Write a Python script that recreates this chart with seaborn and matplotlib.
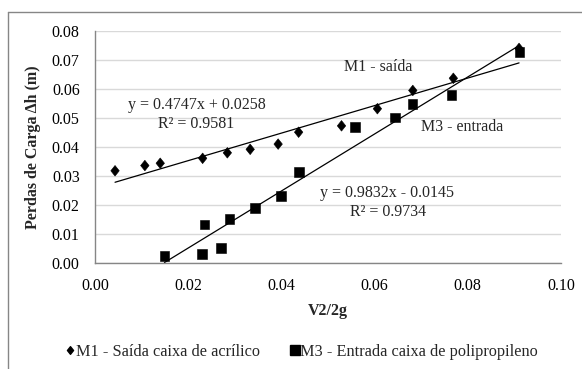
import matplotlib
matplotlib.use("Agg")
import matplotlib.pyplot as plt
from matplotlib.path import Path
from matplotlib.lines import Line2D
import numpy as np
import pandas as pd
import seaborn as sns

# Measured head loss against velocity head
m1_label = "M1 - Saída caixa de acrílico"
m3_label = "M3 - Entrada caixa de polipropileno"

m1_x = [0.0043, 0.0107, 0.0140, 0.0231, 0.0284, 0.0333, 0.0393,
        0.0437, 0.0529, 0.0606, 0.0682, 0.0769, 0.0910]
m1_y = [0.0318, 0.0336, 0.0344, 0.0361, 0.0380, 0.0392, 0.0410,
        0.0451, 0.0473, 0.0532, 0.0595, 0.0637, 0.0740]

m3_x = [0.0149, 0.0229, 0.0235, 0.0270, 0.0289, 0.0344, 0.0399,
        0.0438, 0.0558, 0.0644, 0.0681, 0.0765, 0.0911]
m3_y = [0.0025, 0.0031, 0.0133, 0.0051, 0.0151, 0.0189, 0.0231,
        0.0313, 0.0470, 0.0502, 0.0548, 0.0580, 0.0727]

# Linear trendlines (slope, intercept, R²)
m1_fit = [0.4747, 0.0258, 0.9581]
m3_fit = [0.9832, -0.0145, 0.9734]

x_ticks = [0.00, 0.02, 0.04, 0.06, 0.08, 0.10]
y_ticks = [0.00, 0.01, 0.02, 0.03, 0.04, 0.05, 0.06, 0.07, 0.08]

df = pd.DataFrame({
    "x": m1_x + m3_x,
    "y": m1_y + m3_y,
    "serie": [m1_label] * len(m1_x) + [m3_label] * len(m3_x),
})

sns.set_style("white")
plt.rcParams["font.family"] = ["Liberation Serif", "DejaVu Serif"]

diamond = Path([(0, 1), (0.8, 0), (0, -1), (-0.8, 0), (0, 1)],
               [Path.MOVETO, Path.LINETO, Path.LINETO, Path.LINETO, Path.CLOSEPOLY])

fig = plt.figure(figsize=(5.82, 3.69), dpi=100)
ax = fig.add_axes([95 / 582, 1 - 263 / 369, (561 - 95) / 582, (263 - 31) / 369])

grid_c = "#d9d9d9"
axis_c = "#868686"

sns.scatterplot(data=df, x="x", y="y", hue="serie", style="serie",
                palette={m1_label: "black", m3_label: "black"},
                markers={m1_label: diamond, m3_label: "s"},
                size="serie", sizes={m1_label: 58, m3_label: 48},
                linewidth=0.4, edgecolor="black", ax=ax, legend=False, zorder=3)

for xs, fit in ((m1_x, m1_fit), (m3_x, m3_fit)):
    xx = np.array([min(xs), max(xs)])
    ax.plot(xx, fit[0] * xx + fit[1], color="black", lw=0.9, zorder=2)

ax.set_xlim(0, 0.10)
ax.set_ylim(0, 0.08)
ax.set_xticks(x_ticks)
ax.set_yticks(y_ticks)
ax.set_xticklabels([f"{v:.2f}" for v in x_ticks])
ax.set_yticklabels([f"{v:.2f}" for v in y_ticks])
ax.yaxis.grid(True, color=grid_c, lw=1)
ax.xaxis.grid(False)
ax.set_axisbelow(True)
for side in ("top", "right"):
    ax.spines[side].set_visible(False)
for side in ("left", "bottom"):
    ax.spines[side].set_color(axis_c)
    ax.spines[side].set_linewidth(1)
ax.tick_params(axis="both", which="major", direction="out", length=5,
               width=1, color=axis_c, labelsize=11.5, labelcolor="black", pad=6)

ax.set_xlabel("V2/2g", fontsize=11.5, fontweight="bold", labelpad=6)
ax.set_ylabel("Perdas de Carga Δh (m)", fontsize=11.5, fontweight="bold", labelpad=8)

def fit_text(fit, sign):
    b = abs(fit[1])
    return f"y = {fit[0]:.4f}x {sign} {b:.4f}"

fs = 11.5
ax.text(0.0218, 0.0545, fit_text(m1_fit, "+"), ha="center", va="center", fontsize=fs)
ax.text(0.0217, 0.0479, f"R² = {m1_fit[2]:.4f}", ha="center", va="center", fontsize=fs)
ax.text(0.0627, 0.0240, fit_text(m3_fit, "-"), ha="center", va="center", fontsize=fs)
ax.text(0.0629, 0.0175, f"R² = {m3_fit[2]:.4f}", ha="center", va="center", fontsize=fs)
ax.text(0.0607, 0.0677, "M1 - saída", ha="center", va="center", fontsize=fs)
ax.text(0.0787, 0.0470, "M3 - entrada", ha="center", va="center", fontsize=fs)

handles = [
    Line2D([], [], ls="none", marker=diamond, color="black", markersize=5.5),
    Line2D([], [], ls="none", marker="s", color="black", markersize=6.5),
]
fig.legend(handles, [m1_label, m3_label], loc="center",
           bbox_to_anchor=(302 / 582, 1 - 352 / 369), ncol=2, frameon=False,
           fontsize=11.7, handlelength=0.5, handletextpad=0.1, columnspacing=1.9)

# chart frame
fx, fy = 8.3 / 582, 1 - 12.3 / 369
fig.add_artist(Line2D([fx, fx], [0, fy], color=axis_c, lw=1, transform=fig.transFigure))
fig.add_artist(Line2D([fx, 1], [fy, fy], color=axis_c, lw=1, transform=fig.transFigure))

fig.savefig("out.png", dpi=100)
